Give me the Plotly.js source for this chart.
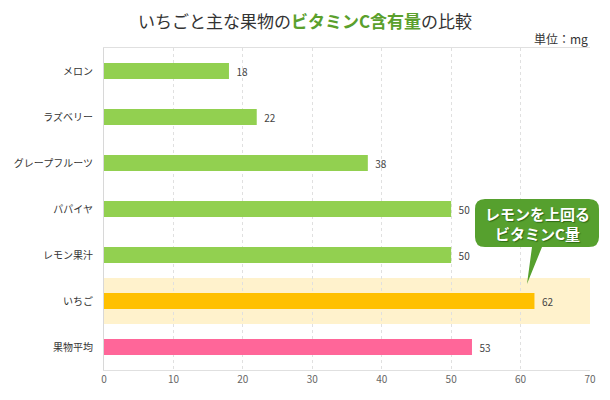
<!DOCTYPE html>
<html>
<head>
<meta charset="utf-8">
<script src="https://cdn.plot.ly/plotly-3.0.1.min.js"></script>
<style>
  html, body { margin: 0; padding: 0; background: #fff; }
  #chart { width: 610px; height: 400px; }
</style>
</head>
<body>
<div id="chart"></div>
<script>
// Vitamin C content (mg) of strawberries vs. other fruits.
const fruits = ["メロン", "ラズベリー", "グレープフルーツ", "パパイヤ", "レモン果汁", "いちご", "果物平均"];
const vitaminC = [18, 22, 38, 50, 50, 62, 53];
const barColors = ["#92d050", "#92d050", "#92d050", "#92d050", "#92d050", "#ffc000", "#ff6699"];
const xTicks = [0, 10, 20, 30, 40, 50, 60, 70];

const FONT = "'Noto Sans CJK JP', 'Noto Sans', sans-serif";
const CALLOUT = "#56a02e";

// plot box in pixels, used to place the callout bubble in paper coords
const L = 104, R = 590, T = 48, B = 370;
const px = (x) => (x - L) / (R - L);
const py = (y) => (B - y) / (B - T);

function bubblePath() {
  const x0 = 475, x1 = 599, y0 = 199, y1 = 247, r = 10;
  const pts = [
    `M ${px(x0 + r)} ${py(y0)}`,
    `L ${px(x1 - r)} ${py(y0)}`,
    `Q ${px(x1)} ${py(y0)} ${px(x1)} ${py(y0 + r)}`,
    `L ${px(x1)} ${py(y1 - r)}`,
    `Q ${px(x1)} ${py(y1)} ${px(x1 - r)} ${py(y1)}`,
    `L ${px(542)} ${py(y1)}`,
    `L ${px(527)} ${py(284)}`,
    `L ${px(532)} ${py(y1)}`,
    `L ${px(x0 + r)} ${py(y1)}`,
    `Q ${px(x0)} ${py(y1)} ${px(x0)} ${py(y1 - r)}`,
    `L ${px(x0)} ${py(y0 + r)}`,
    `Q ${px(x0)} ${py(y0)} ${px(x0 + r)} ${py(y0)}`,
    "Z",
  ];
  return pts.join(" ");
}

const trace = {
  type: "bar",
  orientation: "h",
  x: vitaminC,
  y: fruits,
  width: 0.35,
  marker: { color: barColors },
  text: vitaminC.map((v) => "\u00a0\u00a0" + v), // small gap after the bar end
  textposition: "outside",
  cliponaxis: false,
  textfont: { family: FONT, size: 10, color: "#444" },
  hoverinfo: "x+y",
};

const layout = {
  width: 610,
  height: 400,
  margin: { l: L, r: 610 - R, t: T, b: 400 - B },
  paper_bgcolor: "#fff",
  plot_bgcolor: "#fff",
  font: { family: FONT, color: "#333" },
  showlegend: false,
  title: {
    text: "いちごと主な果物の<span style='color:#5aa02c'><b>ビタミンC含有量</b></span>の比較",
    font: { family: FONT, size: 17, color: "#333" },
    x: 0.5,
    xref: "container",
    y: 1 - 22 / 400,
    yref: "container",
    yanchor: "middle",
  },
  xaxis: {
    range: [0, 70],
    tickvals: xTicks,
    ticks: "",
    tickfont: { family: FONT, size: 10, color: "#666" },
    showgrid: true,
    gridcolor: "#e0e0e0",
    griddash: "3px,3px",
    gridwidth: 1,
    zeroline: false,
    showline: true,
    linecolor: "#e0e0e0",
    mirror: true,
    fixedrange: true,
  },
  yaxis: {
    autorange: "reversed",
    ticks: "",
    ticklabelstandoff: 8,
    tickfont: { family: FONT, size: 10, color: "#333" },
    showgrid: false,
    zeroline: false,
    showline: true,
    linecolor: "#d8d8d8",
    fixedrange: true,
  },
  shapes: [
    {
      type: "rect",
      xref: "paper",
      yref: "y",
      x0: 0,
      x1: 1,
      y0: fruits.indexOf("いちご") - 0.5,
      y1: fruits.indexOf("いちご") + 0.5,
      fillcolor: "#fff2cc",
      line: { width: 0 },
      layer: "below",
    },
    {
      type: "path",
      xref: "paper",
      yref: "paper",
      path: bubblePath(),
      fillcolor: CALLOUT,
      line: { width: 0 },
      layer: "above",
    },
  ],
  annotations: [
    {
      xref: "paper",
      yref: "paper",
      x: 1,
      y: py(38),
      xanchor: "right",
      yanchor: "middle",
      text: "単位：mg",
      showarrow: false,
      font: { family: FONT, size: 12, color: "#333" },
    },
    {
      xref: "paper",
      yref: "paper",
      x: px(537),
      y: py(223),
      xanchor: "center",
      yanchor: "middle",
      text: "<b>レモンを上回る<br>ビタミンC量</b>",
      showarrow: false,
      align: "center",
      font: { family: FONT, size: 15, color: "#fff", shadow: "1px 1px 1px #2f6b14" },
    },
  ],
};

Plotly.newPlot("chart", [trace], layout, { displayModeBar: false, staticPlot: true });
</script>
</body>
</html>
